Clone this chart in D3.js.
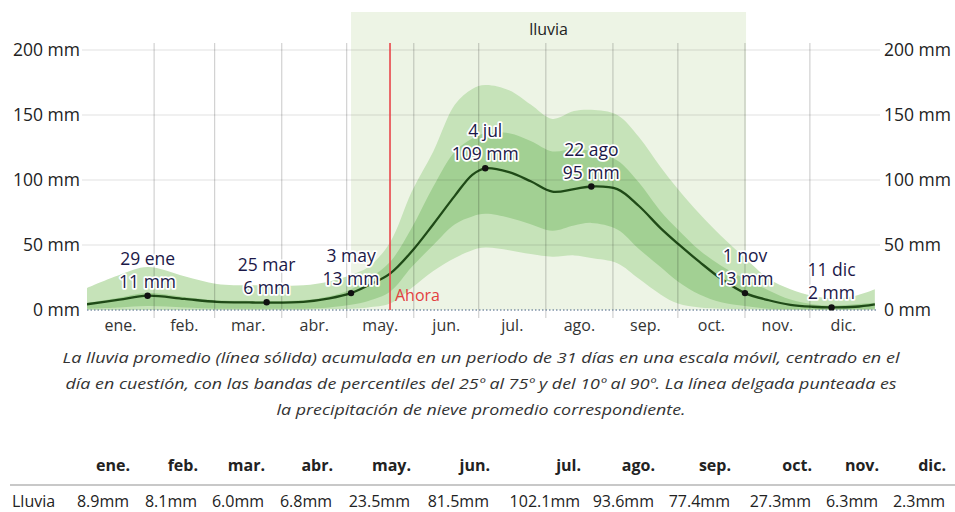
<!DOCTYPE html>
<html>
<head>
<meta charset="utf-8">
<script src="https://cdn.jsdelivr.net/npm/d3@7"></script>
<style>
  html, body { margin: 0; padding: 0; background: #fff; }
  svg { display: block; font-family: "Open Sans", "Noto Sans", sans-serif; }
</style>
</head>
<body>
<svg id="chart" width="955" height="512"></svg>
<script>
// ---------------- DATA ----------------
const days   = [0,15,28,45,60,75,83,100,112,122,130,140,150,160,170,178,184,195,205,215,225,233,245,255,265,273,283,293,304,315,325,335,344,355,364];
const mean   = [4.4,8,11,8.5,6.3,5.8,5.7,6.3,9,13,19,28,45,66,88,104,109,106,99,91,93,95,93,80,63,51,37,24,13,7.5,4,2.5,2,2.5,4.4];
const p90    = [17,27,33,26,20,19,19,19,22,27,33,52,91,122,158,170,173,169,158,147,153,154,150,133,110,93,74,57,40,24,16,11,9,11,16];
const p75    = [5.5,9.5,13,10,7.5,7,7,7.5,10.5,16,24,37,63,95,122,132,136,136,130,122,124,122,115,98,76,62,46,34,24,15,8,4.5,3.5,4.5,5.5];
const p25    = [1,2,3,2,1,1,1,1,2,4,7,14,33,50,66,72,74,71,66,61,65,67,62,47,33,22,12,6,3,1,0.5,0.3,0.3,0.5,1];
const p10    = [0,0,0,0,0,0,0,0,0.5,1,2,5,17,30,40,46,48,46,43,41,42,40,36,24,12,5,2,1,0.5,0,0,0,0,0,0];

const monthNames  = ["ene.","feb.","mar.","abr.","may.","jun.","jul.","ago.","sep.","oct.","nov.","dic."];
const monthStarts = [0,31,59,90,120,151,181,212,243,273,304,334,365];
const yTicks      = [0,50,100,150,200];

const annotations = [
  {day:28,  date:"29 ene", value:11},
  {day:83,  date:"25 mar", value:6},
  {day:122, date:"3 may",  value:13},
  {day:184, date:"4 jul",  value:109},
  {day:233, date:"22 ago", value:95},
  {day:304, date:"1 nov",  value:13},
  {day:344, date:"11 dic", value:2}
];
const rainySeason = [122, 304.5];   // 3 may – 1 nov
const nowDay = 140;                 // 20 may

const tableLabel  = "Lluvia";
const tableValues = ["8.9mm","8.1mm","6.0mm","6.8mm","23.5mm","81.5mm","102.1mm","93.6mm","77.4mm","27.3mm","6.3mm","2.3mm"];

const caption = [
  "La lluvia promedio (línea sólida) acumulada en un periodo de 31 días en una escala móvil, centrado en el",
  "día en cuestión, con las bandas de percentiles del 25º al 75º y del 10º al 90º. La línea delgada punteada es",
  "la precipitación de nieve promedio correspondiente."
];

// ---------------- LAYOUT ----------------
const svg = d3.select("#chart");
const x = d3.scaleLinear().domain([0,365]).range([87,877]);
const y = d3.scaleLinear().domain([0,200]).range([310,50]);
const gridTop = 43, gridBottom = 318;

const pts = days.map((d,i)=>({d, m:mean[i], a:p90[i], b:p75[i], c:p25[i], e:p10[i]}));
const curve = d3.curveCatmullRom.alpha(0.5);

svg.append("defs").append("clipPath").attr("id","plotclip")
  .append("rect").attr("x", x(0)).attr("y", 0).attr("width", x(365)-x(0)).attr("height", y(0));

// rainy season background
svg.append("rect")
  .attr("x", x(rainySeason[0])).attr("y", 12)
  .attr("width", x(rainySeason[1]) - x(rainySeason[0]))
  .attr("height", y(0) - 12)
  .attr("fill", "#edf4e5");
svg.append("text")
  .attr("x", (x(rainySeason[0]) + x(rainySeason[1]))/2).attr("y", 29)
  .attr("text-anchor","middle").attr("dominant-baseline","central")
  .attr("font-size", 16).attr("fill","#222").text("lluvia");

const plot = svg.append("g").attr("clip-path","url(#plotclip)");
// bands
plot.append("path").datum(pts)
  .attr("d", d3.area().curve(curve).x(p=>x(p.d)).y0(p=>y(p.e)).y1(p=>y(p.a)))
  .attr("fill", "#c6e3b9");
plot.append("path").datum(pts)
  .attr("d", d3.area().curve(curve).x(p=>x(p.d)).y0(p=>y(p.c)).y1(p=>y(p.b)))
  .attr("fill", "#a2d093");

// horizontal grid
svg.append("g").selectAll("line").data(yTicks).join("line")
  .attr("x1", 82).attr("x2", 880)
  .attr("y1", d=>y(d)).attr("y2", d=>y(d))
  .attr("stroke", d => d===0 ? "none" : "rgba(0,0,0,0.12)").attr("stroke-width",1);

// vertical grid at month boundaries
svg.append("g").selectAll("line").data(monthStarts.slice(1,12)).join("line")
  .attr("x1", d=>x(d)).attr("x2", d=>x(d))
  .attr("y1", gridTop).attr("y2", gridBottom)
  .attr("stroke","rgba(0,0,0,0.22)").attr("stroke-width",1);

// zero dotted line (snow)
svg.append("line")
  .attr("x1", x(0)).attr("x2", x(365)).attr("y1", y(0)).attr("y2", y(0))
  .attr("stroke","#7f93a8").attr("stroke-width",1.3).attr("stroke-dasharray","1.5,2");

// mean line
plot.append("path").datum(pts)
  .attr("d", d3.line().curve(curve).x(p=>x(p.d)).y(p=>y(p.m)))
  .attr("fill","none").attr("stroke","#1f4a17").attr("stroke-width",2.3);

// now line
svg.append("line")
  .attr("x1", x(nowDay)).attr("x2", x(nowDay)).attr("y1", gridTop).attr("y2", y(0))
  .attr("stroke","#e8464a").attr("stroke-width",1.6);
svg.append("text")
  .attr("x", x(nowDay)+5).attr("y", 295).attr("dominant-baseline","central")
  .attr("font-size",16).attr("fill","#e3403f").text("Ahora");

// y axis labels
const yAxisL = d3.axisLeft(y).tickValues(yTicks).tickSize(0).tickPadding(0).tickFormat(d=>d+" mm");
const gL = svg.append("g").attr("transform","translate(80,0)").call(yAxisL);
const yAxisR = d3.axisRight(y).tickValues(yTicks).tickSize(0).tickPadding(0).tickFormat(d=>d+" mm");
const gR = svg.append("g").attr("transform","translate(884,0)").call(yAxisR);
[gL,gR].forEach(g=>{
  g.select(".domain").remove();
  g.selectAll("text").attr("font-size",17.5).attr("fill","#222")
    .attr("font-family",'"Open Sans", sans-serif').attr("dy","0.34em");
});

// month labels
const mids = monthNames.map((n,i)=>({n, c:(monthStarts[i]+monthStarts[i+1])/2}));
svg.append("g").selectAll("text").data(mids).join("text")
  .attr("x", d=>x(d.c)).attr("y", 325).attr("text-anchor","middle")
  .attr("dominant-baseline","central").attr("font-size",16).attr("fill","#333")
  .text(d=>d.n);

// annotations
const ann = svg.append("g");
annotations.forEach(a=>{
  const cx = x(a.day), cy = y(a.value);
  ann.append("circle").attr("cx",cx).attr("cy",cy).attr("r",3.2).attr("fill","#111");
  [[a.date, cy-38],[a.value+" mm", cy-15]].forEach(([t,yy])=>{
    ann.append("text").attr("x",cx).attr("y",yy)
      .attr("text-anchor","middle").attr("dominant-baseline","central")
      .attr("font-size",17.5).attr("fill","#1b1848")
      .attr("stroke","#fff").attr("stroke-width",3.5).attr("stroke-linejoin","round")
      .attr("paint-order","stroke").text(t);
  });
});

// caption
const capY = [357,383,409];
const capW = [837, 831, 409];
svg.append("g").selectAll("text").data(caption).join("text")
  .attr("x", 481).attr("y",(d,i)=>capY[i])
  .attr("text-anchor","middle").attr("dominant-baseline","central")
  .attr("font-size",15).attr("font-style","italic").attr("fill","#333")
  .attr("textLength",(d,i)=>capW[i]).attr("lengthAdjust","spacingAndGlyphs")
  .text(d=>d);

// table
const colRight = [130,198,265,333,411,490,581,655,731,812,879,946];
svg.append("g").selectAll("text").data(monthNames).join("text")
  .attr("x",(d,i)=>colRight[i]).attr("y",465).attr("text-anchor","end")
  .attr("dominant-baseline","central").attr("font-size",16).attr("font-weight","bold")
  .attr("fill","#222").text(d=>d);
svg.append("line").attr("x1",10).attr("x2",955).attr("y1",485).attr("y2",485)
  .attr("stroke","#c8c8c8").attr("stroke-width",2);
svg.append("text").attr("x",12).attr("y",501).attr("dominant-baseline","central")
  .attr("font-size",16).attr("fill","#222").text(tableLabel);
svg.append("g").selectAll("text").data(tableValues).join("text")
  .attr("x",(d,i)=>colRight[i]-1).attr("y",501).attr("text-anchor","end")
  .attr("dominant-baseline","central").attr("font-size",16)
  .attr("fill","#222").text(d=>d);
</script>
</body>
</html>
